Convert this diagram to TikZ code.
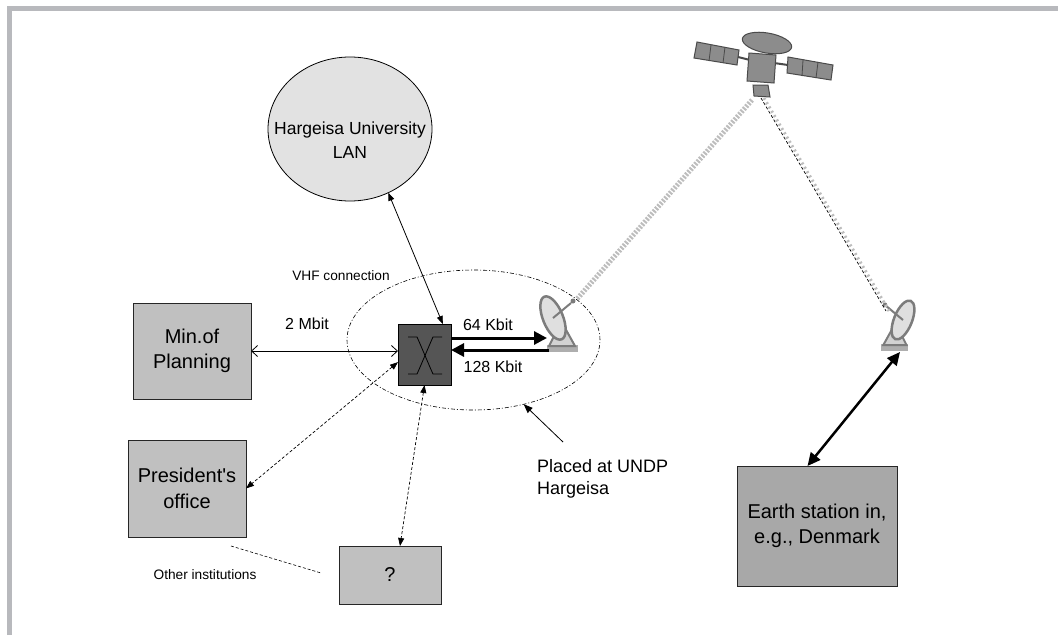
\documentclass[tikz,border=0pt]{standalone}
\usepackage{fontspec}
\setmainfont{Liberation Sans}
\usetikzlibrary{arrows.meta,shapes.geometric,calc}

\definecolor{framegray}{HTML}{B8B9BD}
\definecolor{boxgray}{HTML}{C0C0C0}
\definecolor{earthgray}{HTML}{A8A8A8}
\definecolor{langray}{HTML}{E2E2E2}
\definecolor{switchgray}{HTML}{555555}
\definecolor{iconfill}{HTML}{8C8C8C}
\definecolor{iconline}{HTML}{4A4A4A}
\definecolor{dishline}{HTML}{7C7C7C}
\definecolor{beamgray}{HTML}{BDBDBD}

% ground-station dish, drawn around the centre of its rim, facing up-right
\newcommand{\dishicon}{%
  \fill[iconfill!70] (-6,27) rectangle (25,34);
  \draw[dishline, line width=2pt, fill=gray!35] (4,12) -- (-4,28) -- (22,28) -- (12,10);
  \draw[dishline, line width=2.5pt, fill=gray!25, rotate around={-68:(0,0)}]
    (0,0) ellipse [x radius=23, y radius=10];
  \draw[dishline, line width=2pt] (0,0) -- (18,-15);
  \fill[dishline] (20,-17) circle (2.5);
}

\begin{document}
\begin{tikzpicture}[x=1pt,y=-1pt,
  every node/.style={inner sep=0pt, outer sep=0pt},
  box/.style={draw=black!85, line width=0.9pt, fill=boxgray, align=center,
    font=\fontsize{20}{25.5}\selectfont},
  lbl/.style={font=\fontsize{16}{19}\selectfont},
  small/.style={font=\fontsize{13.7}{16}\selectfont},
  thinarrow/.style={line width=0.8pt,
    {Triangle[length=8pt,width=6pt]}-{Triangle[length=8pt,width=6pt]}},
  dasharrow/.style={line width=0.7pt, dash pattern=on 3pt off 2pt,
    {Triangle[length=8pt,width=6pt]}-{Triangle[length=8pt,width=6pt]}},
  fatarrow/.style={line width=3pt, -{Triangle[length=13pt,width=13pt]}},
]
\useasboundingbox (0,0) rectangle (1058,635);

% page frame
\draw[framegray, line width=5pt] (9.5,635) -- (9.5,8.5) -- (1058,8.5);

% VHF coverage area
\node[ellipse, draw, line width=0.6pt, dash pattern=on 4pt off 2pt on 1pt off 2pt,
  minimum width=253pt, minimum height=140pt] (vhf) at (473.5,340) {};

% sites
\node[box, minimum width=118pt, minimum height=96pt] (mop) at (192,351) {Min.of\\Planning};
\node[box, minimum width=118pt, minimum height=97pt] (pres) at (187,488.5)
  {President\textquotesingle s\\office};
\node[box, minimum width=102pt, minimum height=58pt] (q) at (390,575) {?};
\node[box, fill=earthgray, minimum width=160pt, minimum height=120pt] (earth) at (817,526)
  {Earth station in,\\e.g., Denmark};
\node[ellipse, draw, line width=0.8pt, fill=langray, minimum width=164pt, minimum height=144pt]
  (lan) at (350,129) {};
\node[align=center, font=\fontsize{17.5}{24}\selectfont] (lantext) at (350,140)
  {Hargeisa University\\LAN};

% switch with its crossover symbol
\node[draw, line width=0.9pt, fill=switchgray, minimum width=53pt, minimum height=61pt]
  (sw) at (424.5,354.5) {};
\draw[line width=0.8pt] (408,337) -- (417,337) .. controls (419,341) and (431,370) .. (433,374) -- (442,374);
\draw[line width=0.8pt] (442,337) -- (433,337) .. controls (431,341) and (419,370) .. (417,374) -- (408,374);

% satellite
\draw[iconline, fill=iconfill, line width=1pt] (697,42) -- (739,50) -- (737,65) -- (694,58) -- cycle;
\draw[iconline, line width=0.8pt] (711,45) -- (709,61) (725,47) -- (723,63);
\draw[iconline, line width=2pt] (738,57) -- (750,60);
\draw[iconline, fill=iconfill, line width=1pt] (788,57) -- (833,65) -- (831,80) -- (787,73) -- cycle;
\draw[iconline, line width=0.8pt] (803,60) -- (802,76) (818,62) -- (816,78);
\draw[iconline, line width=2pt] (774,63) -- (788,65);
\draw[iconline, fill=iconfill, line width=1pt] (749,53) -- (776,55) -- (774,83) -- (747,81) -- cycle;
\draw[iconline, fill=iconfill, line width=1pt, rotate around={-10:(767,43)}]
  (767,43) ellipse [x radius=25, y radius=10];
\draw[iconline, fill=iconfill, line width=1pt] (753,85) -- (768,85) -- (770,97) -- (754,96) -- cycle;

% ground dishes
\begin{scope}[shift={(553,318)}]
  \dishicon
\end{scope}
\begin{scope}[shift={(903,320)}, xscale=-0.9, yscale=0.9]
  \dishicon
\end{scope}

% satellite links
\coordinate (satL) at (752,100);
\coordinate (d1top) at (577,299);
\coordinate (satR) at (761,98);
\coordinate (d2top) at (886,311);
\draw[beamgray, line width=5pt, dash pattern=on 2pt off 1.5pt] (satL) -- (d1top);
\draw[beamgray, line width=3pt, dash pattern=on 2pt off 3pt] ($(satR)+(3,0)$) -- ($(d2top)+(3,0)$);
\draw[black, line width=0.7pt, dash pattern=on 3pt off 2pt] (satR) -- (d2top);

% local links
\coordinate (d1in) at (547,338);
\coordinate (d1out) at (549,350);
\draw[fatarrow] (sw.east |- d1in) -- (d1in);
\draw[fatarrow] (d1out) -- (sw.east |- d1out);
\draw[line width=0.8pt, {Straight Barb[length=6pt,width=11pt]}-{Straight Barb[length=6pt,width=11pt]}]
  (mop.east) -- (sw.west |- mop.east);
\draw[thinarrow] (lan.-59) -- (sw.59);
\draw[dasharrow] (sw.196) -- (pres.east);
\draw[dasharrow] (sw.south) -- (q.71);
\coordinate (d2base) at (900,352);
\draw[line width=2.5pt, {Triangle[length=13pt,width=12pt]}-{Triangle[length=13pt,width=12pt]}]
  (earth.99) -- (d2base);
\coordinate (oiA) at (231,546);
\coordinate (oiB) at (321,573);
\draw[line width=0.6pt, dash pattern=on 3pt off 2pt] (oiA) -- (oiB);

% labels
\node[anchor=north west, align=left, font=\fontsize{18}{22}\selectfont] (placed) at (537,459)
  {Placed at UNDP\\Hargeisa};
\coordinate (plA) at (563,442);
\draw[line width=0.8pt, -{Triangle[length=9pt,width=7pt]}] (plA) -- (vhf.-52);
\node[small] (vhfl) at (341,276) {VHF connection};
\node[lbl] (mb) at (307,324) {2 Mbit};
\node[lbl] (k64) at (488,325) {64 Kbit};
\node[lbl] (k128) at (493,367) {128 Kbit};
\node[small] (oi) at (205,575) {Other institutions};
\end{tikzpicture}
\end{document}
